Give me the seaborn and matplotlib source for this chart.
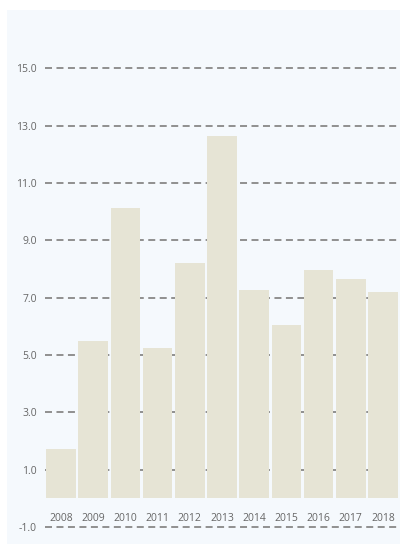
import matplotlib
matplotlib.use("Agg")
import matplotlib.pyplot as plt
from matplotlib.patches import Rectangle
import seaborn as sns
import pandas as pd

years = ["2008", "2009", "2010", "2011", "2012", "2013", "2014", "2015", "2016", "2017", "2018"]
values = [1.71, 5.49, 10.12, 5.24, 8.22, 12.65, 7.27, 6.05, 7.97, 7.65, 7.19]
yticks = [-1.0, 1.0, 3.0, 5.0, 7.0, 9.0, 11.0, 13.0, 15.0]

sns.set_theme(style="white")
plt.rcParams['font.family'] = ['Open Sans', 'DejaVu Sans']

W, H = 400, 544
fig = plt.figure(figsize=(W / 100, H / 100), dpi=100, facecolor="white")
fig.add_artist(Rectangle((7 / W, 0), 1 - 7 / W, (H - 10) / H, transform=fig.transFigure,
                         facecolor="#f5f9fd", edgecolor="none", zorder=0))

ax = fig.add_axes([45 / W, 4 / H, 354 / W, 530 / H])
ax.set_facecolor("none")

df = pd.DataFrame({"year": years, "value": values})
sns.barplot(data=df, x="year", y="value", color="#e6e4d5", saturation=1, width=0.92,
            ax=ax, zorder=3, linewidth=0)

ax.set_ylim(-1.45, 17.04)
ax.set_xlim(-0.5, len(years) - 0.5)
ax.set_yticks(yticks)
ax.set_yticklabels([f"{t:.1f}" for t in yticks])
ax.yaxis.grid(True, color="#909090", linewidth=1.4, linestyle=(0, (3.6, 2.3)), zorder=1)
ax.set_axisbelow(True)
for s in ax.spines.values():
    s.set_visible(False)
ax.set_xlabel("")
ax.set_ylabel("")
ax.tick_params(axis="y", length=0, pad=6, labelsize=7.5, labelcolor="#666666")
ax.tick_params(axis="x", length=0, pad=-19.5, labelsize=7.5, labelcolor="#666666")

fig.savefig("out.png", dpi=100, facecolor="white")
